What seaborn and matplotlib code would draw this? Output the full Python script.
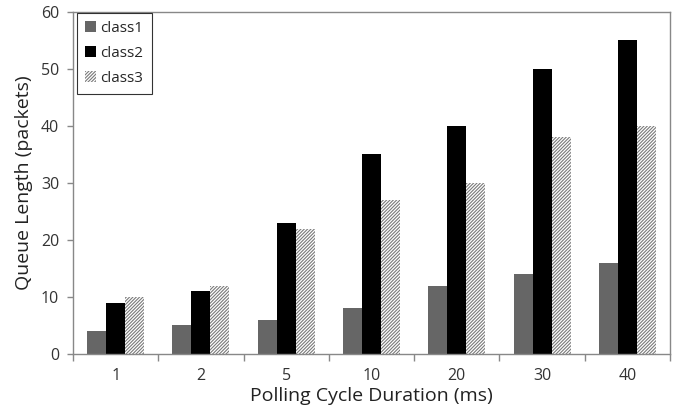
import pandas as pd
import numpy as np
import matplotlib.pyplot as plt
import seaborn as sns
from matplotlib.ticker import FixedLocator

# values
durations = ["1", "2", "5", "10", "20", "30", "40"]
classes = ["class1", "class2", "class3"]
class1 = [4, 5, 6, 8, 12, 14, 16]
class2 = [9, 11, 23, 35, 40, 50, 55]
class3 = [10, 12, 22, 27, 30, 38, 40]

df = pd.DataFrame({
    "duration": durations * 3,
    "cls": [c for c in classes for _ in durations],
    "queue": class1 + class2 + class3,
})

sns.set_style("white")
plt.rcParams["font.family"] = ["Open Sans", "DejaVu Sans"]
plt.rcParams["hatch.linewidth"] = 0.8

fig = plt.figure(figsize=(6.86, 4.13), dpi=100)
ax = fig.add_axes([0.1064, 0.1429, 0.8703, 0.8281])

palette = {"class1": "#666666", "class2": "#000000", "class3": "#ffffff"}
sns.barplot(data=df, x="duration", y="queue", hue="cls", order=durations,
            hue_order=classes, palette=palette, width=0.67, gap=0,
            saturation=1, legend=False, ax=ax)

for bar in ax.containers[2]:
    bar.set_hatch("//////////")
    bar.set_edgecolor("#7a7a7a")
    bar.set_linewidth(0)
for cont in ax.containers[:2]:
    for bar in cont:
        bar.set_linewidth(0)

ax.set_ylim(0, 60)
ax.set_xlim(-0.5, len(durations) - 0.5)
ax.set_yticks(np.arange(0, 61, 10))
ax.xaxis.set_minor_locator(FixedLocator(np.arange(-0.5, len(durations), 1)))
ax.tick_params(axis="x", which="major", length=0, pad=10, labelsize=11.5, labelcolor="#333333")
ax.tick_params(axis="x", which="minor", length=5, width=1, color="#888888", direction="out", bottom=True)
ax.tick_params(axis="y", length=4, width=1, color="#888888", direction="out", left=True,
               labelsize=11.5, labelcolor="#333333", pad=6)

for s in ax.spines.values():
    s.set_color("#888888")
    s.set_linewidth(1)

ax.set_xlabel("Polling Cycle Duration (ms)", fontsize=14, color="#222222", labelpad=2)
ax.set_ylabel("Queue Length (packets)", fontsize=14, color="#222222", labelpad=6)

leg = ax.legend(ax.containers, classes, loc="upper left", bbox_to_anchor=(0.006, 0.998),
                borderaxespad=0, frameon=True, fancybox=False, fontsize=11,
                handlelength=0.7, handleheight=0.7, handletextpad=0.3,
                labelspacing=0.65, borderpad=0.55)
leg.get_frame().set_edgecolor("#000000")
leg.get_frame().set_linewidth(0.8)

fig.savefig("out.png", dpi=100)
